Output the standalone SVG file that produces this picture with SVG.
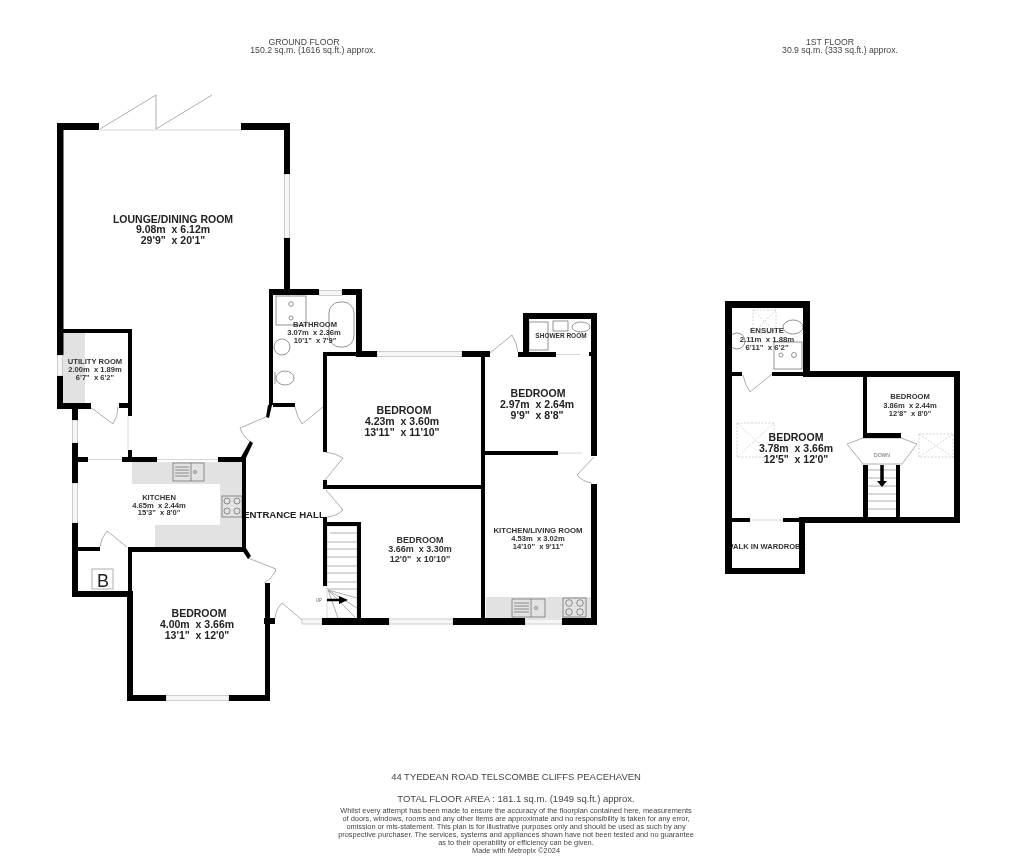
<svg xmlns="http://www.w3.org/2000/svg" width="1020" height="861" viewBox="0 0 1020 861">
<style>
text{font-family:"Liberation Sans",Arial,sans-serif;fill:#333;text-anchor:middle;white-space:pre}
.l{font-size:10.5px;font-weight:bold;fill:#222}
.m{font-size:7.6px;font-weight:bold;fill:#333}
.h{font-size:8.7px;fill:#444}
.d{font-size:7.4px;fill:#444}
.w{fill:#000}
.g{fill:#e2e2e2}
.n{fill:none;stroke:#999;stroke-width:.8}
.f{fill:none;stroke:#666;stroke-width:.7}
.x{fill:none;stroke:#bbb;stroke-width:.6;stroke-dasharray:2 1.5}
.win{fill:#f6f6f6;stroke:#c4c4c4;stroke-width:.8}
</style>
<defs><filter id="soft" filterUnits="userSpaceOnUse" x="0" y="0" width="1020" height="861"><feGaussianBlur stdDeviation="0.45"/></filter></defs>
<rect width="1020" height="861" fill="#fff"/>
<g filter="url(#soft)">
<g id="headers">
<text class="h" x="304" y="44.500">GROUND FLOOR</text>
<text class="h" x="313" y="53">150.2 sq.m. (1616 sq.ft.) approx.</text>
<text class="h" x="830" y="44.500">1ST FLOOR</text>
<text class="h" x="840" y="53">30.9 sq.m. (333 sq.ft.) approx.</text>
</g>
<g id="floors">
<polygon class="g" points="132,462 243,462 243,547 155,547 155,525 220,525 220,484 132,484"/>
<rect class="g" x="63" y="333" width="22" height="70"/>
<rect class="g" x="486" y="597" width="105" height="21"/>
</g>
<g id="clipped-labels">
<text class="l" x="284" y="518" style="font-size:9.600px">ENTRANCE HALL</text>
<text class="m" x="766" y="549" style="font-size:7.600px">WALK IN WARDROBE</text>
</g>
<g id="ground-floor-fittings">
<rect class="f" x="173" y="463" width="31" height="18"/><line class="f" x1="191" y1="463" x2="191" y2="481"/>
<path class="f" d="M175 467h14M175 470h14M175 473h14M175 476h14"/><circle class="f" cx="195" cy="472" r="1.5"/>
<rect class="f" x="222" y="496" width="20" height="21"/>
<circle class="f" cx="227" cy="501" r="3"/><circle class="f" cx="237" cy="501" r="3"/><circle class="f" cx="227" cy="511" r="3"/><circle class="f" cx="237" cy="511" r="3"/>
<rect x="92" y="569" width="21" height="20" fill="#fff" stroke="#999" stroke-width=".8"/>
<text x="103" y="587" style="font-size:18px;fill:#222">B</text>
<rect class="f" x="512" y="599" width="33" height="18"/><line class="f" x1="531" y1="599" x2="531" y2="617"/>
<path class="f" d="M514 603h15M514 606h15M514 609h15M514 612h15"/><circle class="f" cx="536" cy="608" r="1.5"/>
<rect class="f" x="563" y="598" width="23" height="19"/>
<circle class="f" cx="569" cy="603" r="3.3"/><circle class="f" cx="580" cy="603" r="3.3"/><circle class="f" cx="569" cy="612" r="3.3"/><circle class="f" cx="580" cy="612" r="3.3"/>
<rect class="f" x="529" y="322" width="19" height="28" stroke-width="1"/>
<rect class="f" x="553" y="321" width="15" height="10"/>
<ellipse class="f" cx="581" cy="327" rx="9" ry="5"/>
<rect class="f" x="276" y="296" width="30" height="29" stroke-width="1"/>
<circle class="f" cx="291" cy="304" r="2.3"/><circle class="f" cx="291" cy="318" r="2"/>
<rect class="f" x="329" y="302" width="25" height="45" rx="11" stroke-width="1"/>
<ellipse class="f" cx="282" cy="347" rx="8" ry="8"/>
<ellipse class="f" cx="285" cy="378" rx="9" ry="7"/><line class="f" x1="275" y1="372" x2="275" y2="384"/>
<path class="n" d="M330 533h27M327 542h30M327 549h30M327 557h30M327 566h30M327 573h30M327 582h30M327 589h30M328 590L357 598M328 590L357 608M328 590L355 617M328 590L338 618"/>
<rect x="327" y="526" width="30" height="92" fill="none" stroke="#bbb" stroke-width=".6"/>
<path d="M327 600H341" stroke="#000" stroke-width="2.5"/><path d="M339 596L348 600L339 604Z"/>
<text x="319" y="602" style="font-size:4.5px;fill:#666">UP</text>
</g>
<g id="ground-floor-doors">
<path class="n" d="M100 129L156 95V129L212 95M90 407L113 424Q118 416 118 407M266 417L240 428Q243 437 252 443M295 407Q297 417 302 424L323 407M325 452Q336 453 343 458L325 480M326 490L343 510Q337 516 327 517M100 547Q101 538 107 531L127 547M248 558L276 569Q274 577 264 583M275 618Q276 609 282 603L302 620M490 353L512 335Q517 343 518 352M594 457L577 475Q583 482 592 483"/>
<path class="n" style="stroke:#ccc" d="M100 130H241M128 416V450M88 459.500H122M157 459.500H218M556 354.500H580M558 453H582M749 520H783"/>
</g>
<g id="ground-floor-windows">
<rect class="win" x="284.500" y="174" width="5" height="64"/>
<rect class="win" x="57.500" y="355" width="5" height="21"/>
<rect class="win" x="72.500" y="420" width="5" height="23"/>
<rect class="win" x="72.500" y="483" width="5" height="40"/>
<rect class="win" x="319" y="290.500" width="23" height="5"/>
<rect class="win" x="377" y="351.500" width="85" height="5"/>
<rect class="win" x="166" y="695.500" width="63" height="5"/>
<rect class="win" x="302" y="619" width="20" height="5"/>
<rect class="win" x="389" y="619" width="64" height="5"/>
<rect class="win" x="525" y="619" width="37" height="5"/>
</g>
<g id="ground-floor-walls" class="w">
<rect x="57" y="123" width="42" height="7"/><rect x="57" y="123" width="6.500" height="232"/><rect x="57" y="376" width="6" height="33"/>
<rect x="241" y="123" width="49" height="7"/><rect x="284" y="123" width="6" height="51"/><rect x="284" y="238" width="6" height="55"/>
<rect x="63" y="329" width="69" height="4"/><rect x="128" y="329" width="4" height="87"/><rect x="119" y="403" width="13" height="5"/><rect x="57" y="403" width="34" height="6"/>
<rect x="72" y="409" width="6" height="11"/><rect x="72" y="443" width="6" height="40"/><rect x="72" y="523" width="6" height="74"/>
<rect x="78" y="457" width="10" height="5"/><rect x="128" y="450" width="4" height="10"/><rect x="122" y="457" width="35" height="5"/><rect x="218" y="457" width="28" height="5"/>
<rect x="242" y="458" width="4" height="92"/><rect x="128" y="547" width="118" height="5"/><rect x="78" y="547" width="22" height="4"/>
<rect x="72" y="591" width="60" height="6"/><rect x="128" y="547" width="4" height="44"/>
<rect x="127" y="591" width="6" height="110"/><rect x="127" y="695" width="39" height="6"/><rect x="229" y="695" width="41" height="6"/>
<rect x="265" y="583" width="5" height="118"/><rect x="264" y="618" width="11" height="6"/>
<rect x="269" y="290" width="4" height="115"/><rect x="269" y="289" width="50" height="6"/><rect x="342" y="289" width="20" height="6"/>
<rect x="356" y="289" width="6" height="68"/><rect x="273" y="403" width="22" height="4"/>
<rect x="323" y="352" width="33" height="4"/><rect x="356" y="351" width="21" height="6"/><rect x="462" y="351" width="28" height="6"/>
<rect x="323" y="352" width="4" height="100"/><rect x="323" y="480" width="4" height="9"/><rect x="323" y="485" width="158" height="4"/>
<rect x="323" y="517" width="4" height="69"/><rect x="323" y="522" width="38" height="4"/><rect x="357" y="522" width="4" height="103"/>
<rect x="322" y="618" width="67" height="7"/><rect x="453" y="618" width="72" height="7"/><rect x="562" y="618" width="35" height="7"/>
<rect x="481" y="351" width="4" height="274"/><rect x="485" y="451" width="73" height="4"/>
<rect x="591" y="313" width="6" height="143"/><rect x="591" y="484" width="6" height="141"/>
<rect x="523" y="313" width="74" height="6"/><rect x="523" y="313" width="6" height="44"/><rect x="518" y="352" width="38" height="5"/><rect x="589" y="352" width="2" height="4"/>
<path d="M241 457L250 441L253 443L246 458ZM266 417L268 405L272 405L269 418ZM242 550L246 548L251 556L248 559Z"/>
</g>
<g id="ground-floor-labels">
<g id="lounge"><text class="l" x="173" y="222.500">LOUNGE/DINING ROOM</text><text class="l" x="173" y="233">9.08m  x 6.12m</text><text class="l" x="173" y="244">29'9"  x 20'1"</text></g>
<g id="bathroom"><text class="m" x="315" y="327">BATHROOM</text><text class="m" x="314" y="335">3.07m  x 2.36m</text><text class="m" x="315" y="343">10'1"  x 7'9"</text></g>
<g id="utility"><text class="m" x="95" y="364">UTILITY ROOM</text><text class="m" x="95" y="372">2.00m  x 1.89m</text><text class="m" x="95" y="380">6'7"  x 6'2"</text></g>
<g id="kitchen"><text class="m" x="159" y="500">KITCHEN</text><text class="m" x="159" y="508">4.65m  x 2.44m</text><text class="m" x="159" y="515">15'3"  x 8'0"</text></g>
<g id="bed-front"><text class="l" x="199" y="617">BEDROOM</text><text class="l" x="197" y="628">4.00m  x 3.66m</text><text class="l" x="197" y="639">13'1"  x 12'0"</text></g>
<g id="bed-mid"><text class="l" x="404" y="414">BEDROOM</text><text class="l" x="402" y="425">4.23m  x 3.60m</text><text class="l" x="402" y="436">13'11"  x 11'10"</text></g>
<g id="bed-right"><text class="l" x="538" y="397">BEDROOM</text><text class="l" x="537" y="408">2.97m  x 2.64m</text><text class="l" x="537" y="419">9'9"  x 8'8"</text></g>
<g id="bed-low"><text class="m" x="420" y="543" style="font-size:9px">BEDROOM</text><text class="m" x="420" y="552" style="font-size:9px">3.66m  x 3.30m</text><text class="m" x="420" y="562" style="font-size:9px">12'0"  x 10'10"</text></g>
<g id="kitchen-living"><text class="m" x="538" y="533" style="font-size:7.800px">KITCHEN/LIVING ROOM</text><text class="m" x="538" y="541">4.53m  x 3.02m</text><text class="m" x="538" y="549">14'10"  x 9'11"</text></g>
<text class="m" x="561" y="338" style="font-size:6.5px">SHOWER ROOM</text>
</g>
<g id="first-floor-fittings">
<g class="x"><rect x="737" y="423" width="37" height="34"/><path d="M737 423L774 457M774 423L737 457"/><rect x="919" y="434" width="34" height="23"/><path d="M919 434L953 457M953 434L919 457"/><rect x="753" y="310" width="23" height="23"/><path d="M753 310L776 333M776 310L753 333"/></g>
<path d="M847 444L863 438H901L917 444L902 464H863Z" fill="#fff" stroke="#999" stroke-width=".8"/>
<text x="882" y="457" style="font-size:5px;fill:#666">DOWN</text>
<path class="n" d="M868 470H896M868 478H896M868 486H896M868 494H896M868 501H896M868 509H896"/>
<path d="M882 465V482" stroke="#000" stroke-width="3.500"/><path d="M877 481H887L882 487Z"/>
<ellipse class="f" cx="793" cy="327" rx="10" ry="7"/>
<ellipse class="f" cx="737" cy="341" rx="8" ry="8"/>
<rect class="f" x="774" y="342" width="28" height="27" stroke-width="1"/><circle class="f" cx="781" cy="355" r="2"/><circle class="f" cx="794" cy="355" r="2.500"/>
<path class="n" d="M743 375Q745 385 750 392L772 374"/>
</g>
<g id="first-floor-walls" class="w">
<rect x="725" y="301" width="85" height="7"/><rect x="725" y="301" width="7" height="273"/><rect x="803" y="301" width="7" height="76"/>
<rect x="803" y="371" width="157" height="6"/><rect x="954" y="371" width="6" height="152"/><rect x="800" y="517" width="160" height="6"/>
<rect x="799" y="517" width="6" height="57"/><rect x="725" y="568" width="80" height="6"/>
<rect x="732" y="518" width="18" height="4"/><rect x="783" y="518" width="17" height="4"/>
<rect x="732" y="372" width="10" height="4"/><rect x="772" y="372" width="31" height="4"/>
<rect x="863" y="377" width="4" height="61"/><rect x="863" y="433" width="38" height="5"/>
<rect x="863" y="465" width="5" height="52"/><rect x="896" y="465" width="4" height="52"/>
</g>
<g id="first-floor-labels">
<g id="ensuite"><text class="m" x="767" y="333" style="font-size:7.800px">ENSUITE</text><text class="m" x="767" y="342" style="font-size:7.800px">2.11m  x 1.88m</text><text class="m" x="767" y="350" style="font-size:7.800px">6'11"  x 6'2"</text></g>
<g id="bed-main"><text class="l" x="796" y="441">BEDROOM</text><text class="l" x="796" y="452">3.78m  x 3.66m</text><text class="l" x="796" y="463">12'5"  x 12'0"</text></g>
<g id="bed-small"><text class="m" x="910" y="399">BEDROOM</text><text class="m" x="910" y="408">3.86m  x 2.44m</text><text class="m" x="910" y="416">12'8"  x 8'0"</text></g>
</g>
<g id="footer">
<text x="516" y="780" style="font-size:9.450px;fill:#444">44 TYEDEAN ROAD TELSCOMBE CLIFFS PEACEHAVEN</text>
<text x="516" y="802" style="font-size:9.500px;fill:#444">TOTAL FLOOR AREA : 181.1 sq.m. (1949 sq.ft.) approx.</text>
<text class="d" x="516" y="813">Whilst every attempt has been made to ensure the accuracy of the floorplan contained here, measurements</text>
<text class="d" x="516" y="821">of doors, windows, rooms and any other items are approximate and no responsibility is taken for any error,</text>
<text class="d" x="516" y="829">omission or mis-statement. This plan is for illustrative purposes only and should be used as such by any</text>
<text class="d" x="516" y="837">prospective purchaser. The services, systems and appliances shown have not been tested and no guarantee</text>
<text class="d" x="516" y="845">as to their operability or efficiency can be given.</text>
<text class="d" x="516" y="853">Made with Metropix ©2024</text>
</g>
</g>
</svg>
